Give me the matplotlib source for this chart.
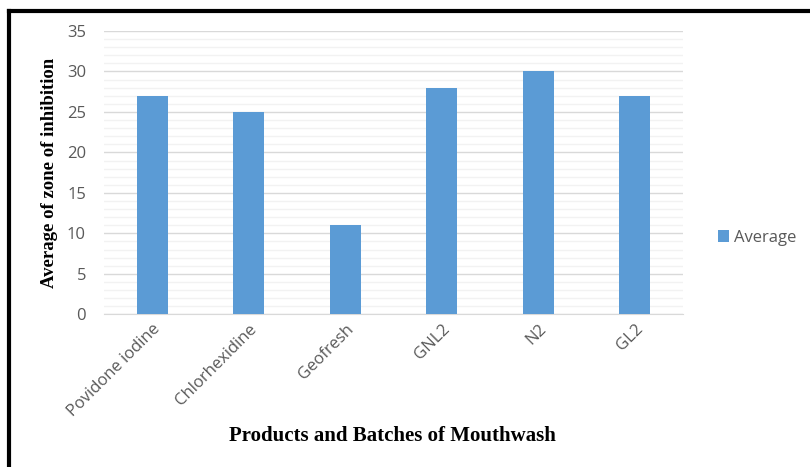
import numpy as np
import matplotlib
matplotlib.use('Agg')
import matplotlib.pyplot as plt
from matplotlib.lines import Line2D

products = ['Povidone iodine', 'Chlorhexidine', 'Geofresh', 'GNL2', 'N2', 'GL2']
average = [27, 25, 11, 28, 30, 27]

fig = plt.figure(figsize=(8.1, 4.67), dpi=100)
ax = fig.add_axes([0.1284, 0.327, 0.7148, 0.6066])

idx = np.arange(len(products))
ax.bar(idx, average, width=0.32, color='#5B9BD5', label='Average', zorder=3)

ax.set_xlim(-0.5, len(products) - 0.5)
ax.set_ylim(0, 35)
ax.set_yticks(range(0, 36, 5))
ax.set_yticks(range(0, 36, 1), minor=True)
ax.grid(axis='y', which='major', color='#D9D9D9', linewidth=1, zorder=0)
ax.grid(axis='y', which='minor', color='#F2F2F2', linewidth=1, zorder=0)

for s in ['top', 'right', 'left']:
    ax.spines[s].set_visible(False)
ax.spines['bottom'].set_color('#D9D9D9')
ax.tick_params(axis='both', which='both', length=0, colors='#595959', labelsize=12)
ax.tick_params(axis='y', pad=13)
ax.tick_params(axis='x', pad=5)
for lbl in ax.get_yticklabels():
    lbl.set_family('Open Sans')

ax.set_xticks(idx)
ax.set_xticklabels(products, rotation=45, ha='right', rotation_mode='anchor',
                   family='Open Sans', fontsize=12)

ax.set_ylabel('Average of zone of inhibition', family='Liberation Serif',
              fontweight='bold', fontsize=13.5, color='black', labelpad=6)
fig.text(0.485, 0.066, 'Products and Batches of Mouthwash', family='Liberation Serif',
         fontweight='bold', fontsize=15, ha='center', va='center')

ax.legend(loc='center left', bbox_to_anchor=(1.035, 0.27), frameon=False,
          handlelength=0.65, handleheight=0.65, handletextpad=0.3,
          prop={'family': 'Open Sans', 'size': 12}, labelcolor='#595959')

# black frame around the chart
fig.add_artist(Line2D([0.0105, 1.0], [0.9775, 0.9775], color='black', linewidth=3))
fig.add_artist(Line2D([0.0105, 0.0105], [0.0, 0.9775], color='black', linewidth=3))

fig.savefig('out.png', dpi=100)
